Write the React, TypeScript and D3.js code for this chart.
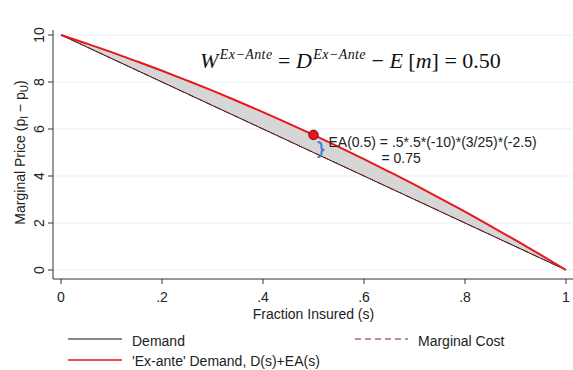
import React from "react";
import * as d3 from "d3";

// fraction insured (s) grid and readings
const sValues = [0, 0.05, 0.1, 0.15, 0.2, 0.25, 0.3, 0.35, 0.4, 0.45, 0.5, 0.55, 0.6, 0.65, 0.7, 0.75, 0.8, 0.85, 0.9, 0.95, 1];
const exAnteDemand = [10, 9.64, 9.27, 8.88, 8.48, 8.06, 7.63, 7.18, 6.72, 6.24, 5.75, 5.24, 4.72, 4.18, 3.63, 3.06, 2.48, 1.88, 1.27, 0.64, 0];
const demand = [10, 9.5, 9, 8.5, 8, 7.5, 7, 6.5, 6, 5.5, 5, 4.5, 4, 3.5, 3, 2.5, 2, 1.5, 1, 0.5, 0];
const marginalCost = [10, 9.5, 9, 8.5, 8, 7.5, 7, 6.5, 6, 5.5, 5, 4.5, 4, 3.5, 3, 2.5, 2, 1.5, 1, 0.5, 0];

const xTicks = [0, 0.2, 0.4, 0.6, 0.8, 1];
const yTicks = [0, 2, 4, 6, 8, 10];

const markPoint = {s: 0.5, value: 5.75};

const W = 573;
const H = 370;
const sans = "'Liberation Sans', Arial, sans-serif";
const serif = "'Liberation Serif', 'Times New Roman', serif";
const fs = 14;

const fmtX = (d: number) => (d === 0 || d === 1 ? String(d) : d3.format(".1f")(d).replace(/^0/, ""));

const App = () => {
  const x = d3.scaleLinear().domain([0, 1]).range([61, 566]);
  const y = d3.scaleLinear().domain([0, 10]).range([270, 35]);

  const rows = sValues.map((s, i) => ({s, d: demand[i], mc: marginalCost[i], ea: exAnteDemand[i]}));

  const area = d3
    .area<any>()
    .x((d) => x(d.s))
    .y0((d) => y(d.d))
    .y1((d) => y(d.ea))
    .curve(d3.curveMonotoneX);
  const lineOf = (key: string) =>
    d3
      .line<any>()
      .x((d) => x(d.s))
      .y((d) => y(d[key]))
      .curve(d3.curveMonotoneX)(rows) as string;

  const axisY = 279;
  const axisX = 53;
  const px = x(markPoint.s);
  const py = y(markPoint.value);

  return (
    <svg width={W} height={H} style={{position: "absolute", left: 0, top: 0, background: "#fff"}}>
      {/* gridlines */}
      {yTicks.map((t) => (
        <line key={"g" + t} x1={axisX} x2={W} y1={y(t)} y2={y(t)} stroke="#e6eff2" strokeWidth={1} />
      ))}

      {/* shaded welfare loss */}
      <path d={area(rows) as string} fill="#d6d6d6" />

      <path d={lineOf("d")} fill="none" stroke="#111" strokeWidth={1} />
      <path d={lineOf("mc")} fill="none" stroke="#8b1a1a" strokeWidth={1} strokeDasharray="6,4" />
      <path d={lineOf("ea")} fill="none" stroke="#e8161b" strokeWidth={2} />

      {/* axes */}
      <line x1={axisX} x2={axisX} y1={30} y2={axisY} stroke="#333" strokeWidth={1} />
      <line x1={axisX} x2={W} y1={axisY} y2={axisY} stroke="#333" strokeWidth={1} />
      {xTicks.map((t) => (
        <g key={"x" + t}>
          <line x1={x(t)} x2={x(t)} y1={axisY} y2={axisY + 5} stroke="#333" />
          <text x={x(t)} y={302} textAnchor="middle" fontFamily={sans} fontSize={fs} fill="#222">
            {fmtX(t)}
          </text>
        </g>
      ))}
      {yTicks.map((t) => (
        <g key={"y" + t}>
          <line x1={axisX - 5} x2={axisX} y1={y(t)} y2={y(t)} stroke="#333" />
          <text
            transform={`translate(44,${y(t)}) rotate(-90)`}
            textAnchor="middle"
            fontFamily={sans}
            fontSize={fs}
            fill="#222"
          >
            {t}
          </text>
        </g>
      ))}

      {/* axis titles */}
      <text x={x(0.5)} y={319} textAnchor="middle" fontFamily={sans} fontSize={fs} fill="#222">
        Fraction Insured (s)
      </text>
      <text transform={`translate(25,${y(5)}) rotate(-90)`} textAnchor="middle" fontFamily={sans} fontSize={fs} fill="#222">
        Marginal Price (p
        <tspan fontSize={10} dy={3}>I</tspan>
        <tspan dy={-3}> − p</tspan>
        <tspan fontSize={10} dy={3}>U</tspan>
        <tspan dy={-3}>)</tspan>
      </text>

      {/* formula */}
      <text x={200} y={68} fontFamily={serif} fontSize={22} fill="#111">
        <tspan fontStyle="italic">W</tspan>
        <tspan fontStyle="italic" fontSize={14} dy={-9} dx={1.5} letterSpacing={0.4}>Ex−Ante</tspan>
        <tspan dy={9}> = </tspan>
        <tspan fontStyle="italic">D</tspan>
        <tspan fontStyle="italic" fontSize={14} dy={-9} dx={1.5} letterSpacing={0.4}>Ex−Ante</tspan>
        <tspan dy={9}> − </tspan>
        <tspan fontStyle="italic">E</tspan>
        <tspan> [</tspan>
        <tspan fontStyle="italic">m</tspan>
        <tspan>] = 0.50</tspan>
      </text>

      {/* annotation */}
      <path
        d={`M${px + 4},${py + 7} Q${px + 8},${py + 7} ${px + 8},${py + 11} L${px + 8},${py + 13} Q${px + 8},${py + 15} ${px + 11},${py + 15} Q${px + 8},${py + 15} ${px + 8},${py + 17} L${px + 8},${py + 19} Q${px + 8},${py + 22} ${px + 4},${py + 22}`}
        fill="none"
        stroke="#3f7fd4"
        strokeWidth={2}
      />
      <circle cx={px} cy={py} r={4.8} fill="#e8161b" stroke="#5a0000" strokeWidth={0.8} />
      <text x={px + 15} y={py + 12} fontFamily={sans} fontSize={fs} fill="#222">
        EA(0.5) = .5*.5*(-10)*(3/25)*(-2.5)
      </text>
      <text x={px + 68} y={py + 28} fontFamily={sans} fontSize={fs} fill="#222">
        = 0.75
      </text>

      {/* legend */}
      <line x1={68} x2={122} y1={339} y2={339} stroke="#111" strokeWidth={1} />
      <text x={132} y={346} fontFamily={sans} fontSize={fs} fill="#222">Demand</text>
      <line x1={355} x2={408} y1={339} y2={339} stroke="#8b1a1a" strokeWidth={1} strokeDasharray="6,4" />
      <text x={418} y={346} fontFamily={sans} fontSize={fs} fill="#222">Marginal Cost</text>
      <line x1={68} x2={122} y1={360} y2={360} stroke="#e8161b" strokeWidth={1.5} />
      <text x={132} y={366} fontFamily={sans} fontSize={fs} fill="#222">'Ex-ante' Demand, D(s)+EA(s)</text>
    </svg>
  );
};

export default App;
